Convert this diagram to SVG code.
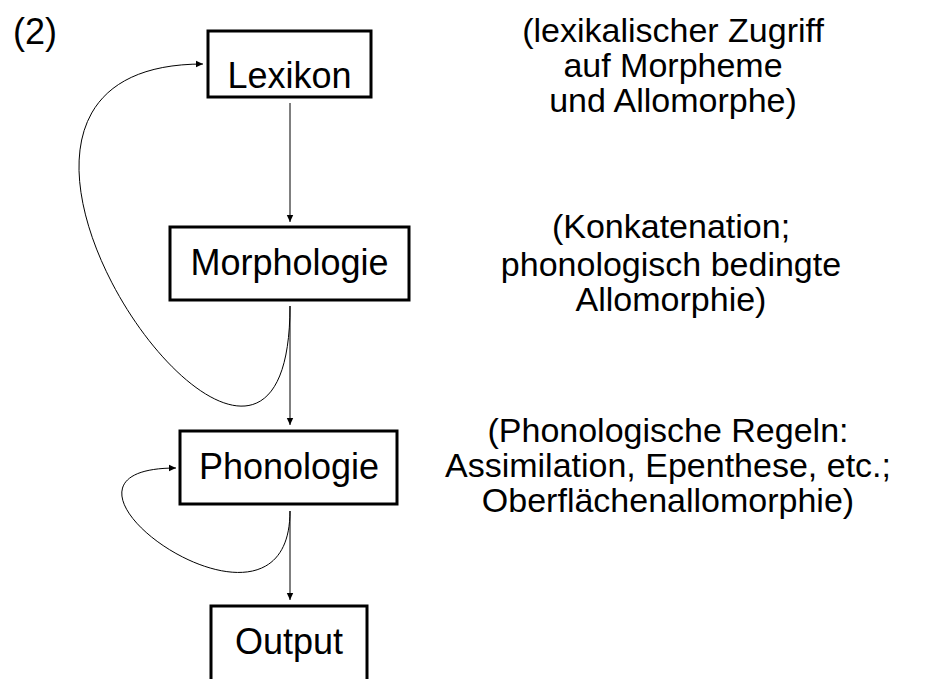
<svg xmlns="http://www.w3.org/2000/svg" width="939" height="679" viewBox="0 0 939 679">
<style>
.box{fill:#fff;stroke:#000;stroke-width:3}
.lbl{font-family:"Liberation Sans",Arial,sans-serif;font-size:36px;fill:#000;text-anchor:middle}
.note{font-family:"Liberation Sans",Arial,sans-serif;font-size:34px;fill:#000;text-anchor:middle}
.edge{fill:none;stroke:#000;stroke-width:1}
</style>
<defs>
<marker id="arr" markerWidth="8" markerHeight="8" refX="7" refY="4" orient="auto" markerUnits="userSpaceOnUse">
<path d="M0,0.8 L7,4 L0,7.2 Z" fill="#000"/>
</marker>
</defs>
<rect width="939" height="679" fill="#fff"/>
<text x="13" y="44" style="font-family:'Liberation Sans',Arial,sans-serif;font-size:36px">(2)</text>
<g id="connectors">
<path class="edge" d="M290,103 L290,222" marker-end="url(#arr)"/>
<path class="edge" d="M290,306 L290,425" marker-end="url(#arr)"/>
<path class="edge" d="M290,511 L290,600" marker-end="url(#arr)"/>
<path class="edge" d="M290,306 C290,630 -120,64 203,64" marker-end="url(#arr)"/>
<path class="edge" d="M290,511 C290,671 6,468 176,468" marker-end="url(#arr)"/>
</g>
<g id="lexikon">
<rect class="box" x="208" y="31" width="163" height="66"/>
<text class="lbl" x="289.5" y="88">Lexikon</text>
</g>
<g id="morphologie">
<rect class="box" x="170" y="227" width="239" height="73"/>
<text class="lbl" x="289.5" y="275">Morphologie</text>
</g>
<g id="phonologie">
<rect class="box" x="180" y="431" width="217" height="73"/>
<text class="lbl" x="289" y="479">Phonologie</text>
</g>
<g id="output">
<rect class="box" x="211" y="606" width="156" height="80"/>
<text class="lbl" x="289" y="654">Output</text>
</g>
<g id="notes">
<text class="note" x="673" y="42">(lexikalischer Zugriff</text>
<text class="note" x="673" y="77">auf Morpheme</text>
<text class="note" x="673" y="112">und Allomorphe)</text>
<text class="note" x="671" y="238">(Konkatenation;</text>
<text class="note" x="671" y="276">phonologisch bedingte</text>
<text class="note" x="671" y="311">Allomorphie)</text>
<text class="note" x="668" y="442">(Phonologische Regeln:</text>
<text class="note" x="668" y="477">Assimilation, Epenthese, etc.;</text>
<text class="note" x="668" y="512">Oberflächenallomorphie)</text>
</g>
</svg>
